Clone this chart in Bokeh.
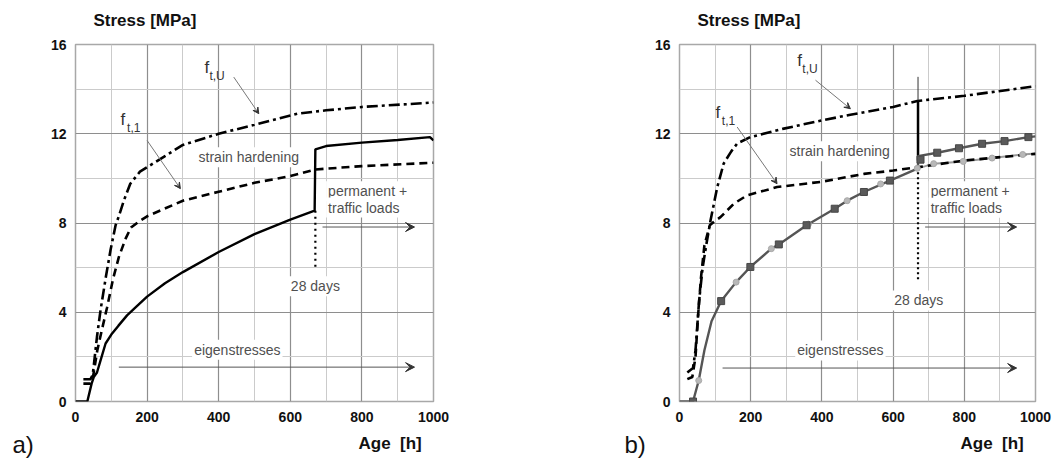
from bokeh.plotting import figure
from bokeh.layouts import row
from bokeh.models import Label, Arrow, VeeHead, FixedTicker, Range1d, Title
from bokeh.embed import file_html
from bokeh.resources import INLINE

FONT = "Liberation Sans"

x_ticks = [0, 200, 400, 600, 800, 1000]
x_minor = [100, 300, 500, 700, 900]
y_ticks = [0, 4, 8, 12, 16]
y_minor = [2, 6, 10, 14]

# ---------------- panel a ----------------
a_fu_age = [22, 42, 48, 51, 60, 70, 85, 98, 112, 121, 135, 153, 180, 250, 300, 400, 500, 620, 700, 800, 1000]
a_fu = [1.0, 1.0, 1.2, 1.6, 2.9, 4.1, 5.6, 6.8, 7.9, 8.3, 9.0, 9.76, 10.3, 11.0, 11.5, 12.0, 12.4, 12.9, 13.05, 13.2, 13.4]

a_f1_age = [22, 42, 50, 61, 75, 88, 105, 121, 140, 155, 180, 200, 300, 400, 500, 600, 670, 800, 1000]
a_f1 = [0.8, 0.8, 1.2, 2.3, 3.3, 4.2, 5.5, 6.47, 7.3, 7.8, 8.1, 8.3, 9.0, 9.4, 9.8, 10.1, 10.4, 10.55, 10.7]

a_s_age = [0, 33, 45, 51, 60, 70, 84, 100, 120, 144, 170, 200, 250, 300, 400, 500, 600, 668, 670, 700, 800, 900, 990, 1000]
a_s = [0, 0, 0.8, 1.09, 1.3, 1.84, 2.6, 3.0, 3.4, 3.86, 4.25, 4.7, 5.3, 5.8, 6.7, 7.5, 8.15, 8.55, 11.3, 11.45, 11.6, 11.72, 11.85, 11.7]

# ---------------- panel b ----------------
b_fu_age = [22, 38, 45, 55, 65, 75, 87, 106, 124, 145, 162, 199, 293, 400, 480, 600, 668, 800, 1000]
b_fu = [1.3, 1.5, 2.3, 4.5, 6.0, 7.0, 8.1, 9.6, 10.66, 11.2, 11.56, 11.85, 12.23, 12.6, 12.85, 13.2, 13.47, 13.7, 14.13]

b_f1_age = [22, 36, 45, 52, 60, 70, 85, 100, 115, 153, 190, 274, 400, 518, 600, 668, 800, 1000]
b_f1 = [1.0, 1.1, 2.0, 3.8, 5.5, 7.0, 7.9, 8.1, 8.26, 8.87, 9.24, 9.61, 9.85, 10.2, 10.35, 10.5, 10.8, 11.1]

b_s_age = [0, 38, 54, 70, 90, 117, 159, 199, 258, 279, 357, 436, 471, 518, 591, 670]
b_s = [0, 0, 0.94, 2.3, 3.6, 4.5, 5.35, 6.03, 6.85, 7.04, 7.9, 8.64, 9.0, 9.39, 9.9, 10.45]

b_up_age = [670, 670, 724, 785, 850, 913, 980, 1000]
b_up = [10.45, 11.0, 11.15, 11.35, 11.55, 11.67, 11.85, 11.88]

b_lo_age = [670, 714, 797, 878, 964, 1000]
b_lo = [10.45, 10.66, 10.76, 10.91, 11.07, 11.12]

b_sq_age = [38, 117, 199, 279, 357, 436, 518, 591, 677, 724, 785, 850, 913, 980]
b_sq = [0, 4.5, 6.03, 7.04, 7.9, 8.64, 9.39, 9.9, 10.84, 11.15, 11.35, 11.55, 11.67, 11.85]

b_ci_age = [54, 159, 258, 362, 471, 565, 668, 714, 797, 878, 964]
b_ci = [0.94, 5.35, 6.85, 7.95, 9.0, 9.75, 10.45, 10.66, 10.76, 10.91, 11.07]

day28 = 670


def make_fig(width, left, right, panel, stress_off, age_off, panel_off):
    p = figure(width=width, height=464, x_range=Range1d(0, 1000), y_range=Range1d(0, 16),
               output_backend="svg", toolbar_location=None, title=None,
               min_border_left=left, min_border_right=right,
               min_border_top=44, min_border_bottom=63)
    p.xaxis.ticker = FixedTicker(ticks=x_ticks, minor_ticks=x_minor)
    p.yaxis.ticker = FixedTicker(ticks=y_ticks, minor_ticks=y_minor)
    for g in (p.xgrid, p.ygrid):
        g.grid_line_color = "#8e8e8e"
        g.grid_line_width = 1.2
        g.minor_grid_line_color = "#cbcbcb"
        g.minor_grid_line_width = 1
    for ax in (p.xaxis, p.yaxis):
        ax.axis_line_color = None
        ax.major_tick_line_color = None
        ax.minor_tick_line_color = None
        ax.major_tick_out = 0
        ax.minor_tick_out = 0
        ax.major_tick_in = 0
        ax.minor_tick_in = 0
        ax.major_label_text_font = FONT
        ax.major_label_text_font_style = "bold"
        ax.major_label_text_font_size = "14px"
        ax.major_label_text_color = "#111111"
    p.xaxis.major_label_standoff = 10
    p.yaxis.major_label_standoff = 9
    p.outline_line_color = "#a8a8a8"
    p.outline_line_width = 1.5
    p.background_fill_color = "white"
    p.border_fill_color = "white"

    # titles above: a spacer nearest the frame, then the y-quantity title
    p.add_layout(Title(text=" ", text_font_size="2px", standoff=11), "above")
    p.add_layout(Title(text="Stress [MPa]", text_font=FONT, text_font_size="17px",
                       text_font_style="bold", text_color="#111111", align="left",
                       vertical_align="bottom", offset=stress_off, standoff=0), "above")
    # titles below: x-quantity title, then the panel letter pulled up beside it
    p.add_layout(Title(text="Age\u00a0\u00a0[h]", text_font=FONT, text_font_size="17px",
                       text_font_style="bold", text_color="#111111", align="left",
                       vertical_align="bottom", offset=age_off, standoff=14), "below")
    p.add_layout(Title(text=panel, text_font=FONT, text_font_size="24px",
                       text_font_style="normal", text_color="#111111", align="left",
                       vertical_align="top", offset=panel_off, standoff=-57), "below")
    return p


def lab(p, x, y, text, size="14px", color="#505050", align="left", baseline="alphabetic", bg=False):
    kw = dict(x=x, y=y, text=text, text_font=FONT, text_font_size=size, text_color=color,
              text_align=align, text_baseline=baseline)
    if bg:
        kw["background_fill_color"] = "white"
        kw["padding"] = 2
    p.add_layout(Label(**kw))


def arrow(p, x0, y0, x1, y1, color="#666666", head=8, width=1):
    p.add_layout(Arrow(end=VeeHead(size=head, fill_color="#333333", line_color="#333333"),
                       x_start=x0, y_start=y0, x_end=x1, y_end=y1,
                       line_color=color, line_width=width))


def decorate(p, fu_pos, f1_pos, fu_arrow, f1_arrow, sh_pos, perm_y, d28_pos, eig_pos, eig_y, perm_arrow_y):
    lab(p, fu_pos[0], fu_pos[1], "f", size="17px", color="#333333")
    lab(p, fu_pos[0] + 14, fu_pos[1] - 0.4, "t,U", size="12px", color="#333333")
    lab(p, f1_pos[0], f1_pos[1], "f", size="17px", color="#333333")
    lab(p, f1_pos[0] + 18, f1_pos[1] - 0.4, "t,1", size="12px", color="#333333")
    arrow(p, *fu_arrow, color="#777777", head=6)
    arrow(p, *f1_arrow, color="#777777", head=6)
    lab(p, sh_pos[0], sh_pos[1], "strain hardening", align="center", baseline="middle", bg=True)
    lab(p, 700, perm_y[0], "permanent +", baseline="middle", bg=True)
    lab(p, 700, perm_y[1], "traffic loads", baseline="middle", bg=True)
    arrow(p, 690, perm_arrow_y, 947, perm_arrow_y, color="#555555", head=9)
    lab(p, d28_pos[0], d28_pos[1], "28 days", align="center", baseline="middle", bg=True)
    lab(p, eig_pos[0], eig_pos[1], "eigenstresses", align="center", baseline="middle", bg=True)
    arrow(p, 121, eig_y, 947, eig_y, color="#555555", head=9)


# ---- figure a ----
pa = make_fig(530, 75, 97, "a)", 18, 283, -63)
decorate(pa, (360, 14.98), (126, 12.65), (442, 14.54, 512, 12.9), (200, 11.7, 293, 9.54),
         (484, 10.95), (9.42, 8.69), (670, 5.16), (452, 2.32), 1.54, 7.82)
pa.line(a_f1_age, a_f1, line_color="black", line_width=2.6, line_dash="8 5")
pa.line(a_fu_age, a_fu, line_color="black", line_width=2.6, line_dash="11 4 3 4")
pa.line([day28, day28], [8.55, 6.0], line_color="black", line_width=2.2, line_dash="2 4")
pa.line(a_s_age, a_s, line_color="black", line_width=2.4)

# ---- figure b ----
pb = make_fig(526, 149, 21, "b)", 18, 281, -55)
decorate(pb, (331, 15.3), (101, 12.97), (382, 14.4, 480, 13.12), (162, 12.3, 274, 9.76),
         (450, 11.22), (9.42, 8.68), (672, 4.53), (452, 2.29), 1.5, 7.82)
pb.line(b_lo_age, b_lo, line_color="#9a9a9a", line_width=2)
pb.line(b_f1_age, b_f1, line_color="black", line_width=2.6, line_dash="8 5")
pb.line(b_fu_age, b_fu, line_color="black", line_width=2.6, line_dash="11 4 3 4")
pb.line([day28, day28], [14.55, 10.6], line_color="#333333", line_width=1)
pb.line([day28, day28], [13.5, 10.8], line_color="black", line_width=2.5)
pb.line([day28, day28], [10.5, 5.43], line_color="black", line_width=2.2, line_dash="2 3")
pb.line(b_s_age, b_s, line_color="#555555", line_width=2.4)
pb.line(b_up_age, b_up, line_color="#555555", line_width=2.4)
pb.scatter(b_ci_age, b_ci, marker="circle", size=6, fill_color="#b8b8b8", line_color="#a8a8a8")
pb.scatter(b_sq_age, b_sq, marker="square", size=7, fill_color="#5a5a5a", line_color="#474747")

layout = row(pa, pb)
open("out.html", "w").write(file_html(layout, INLINE))
